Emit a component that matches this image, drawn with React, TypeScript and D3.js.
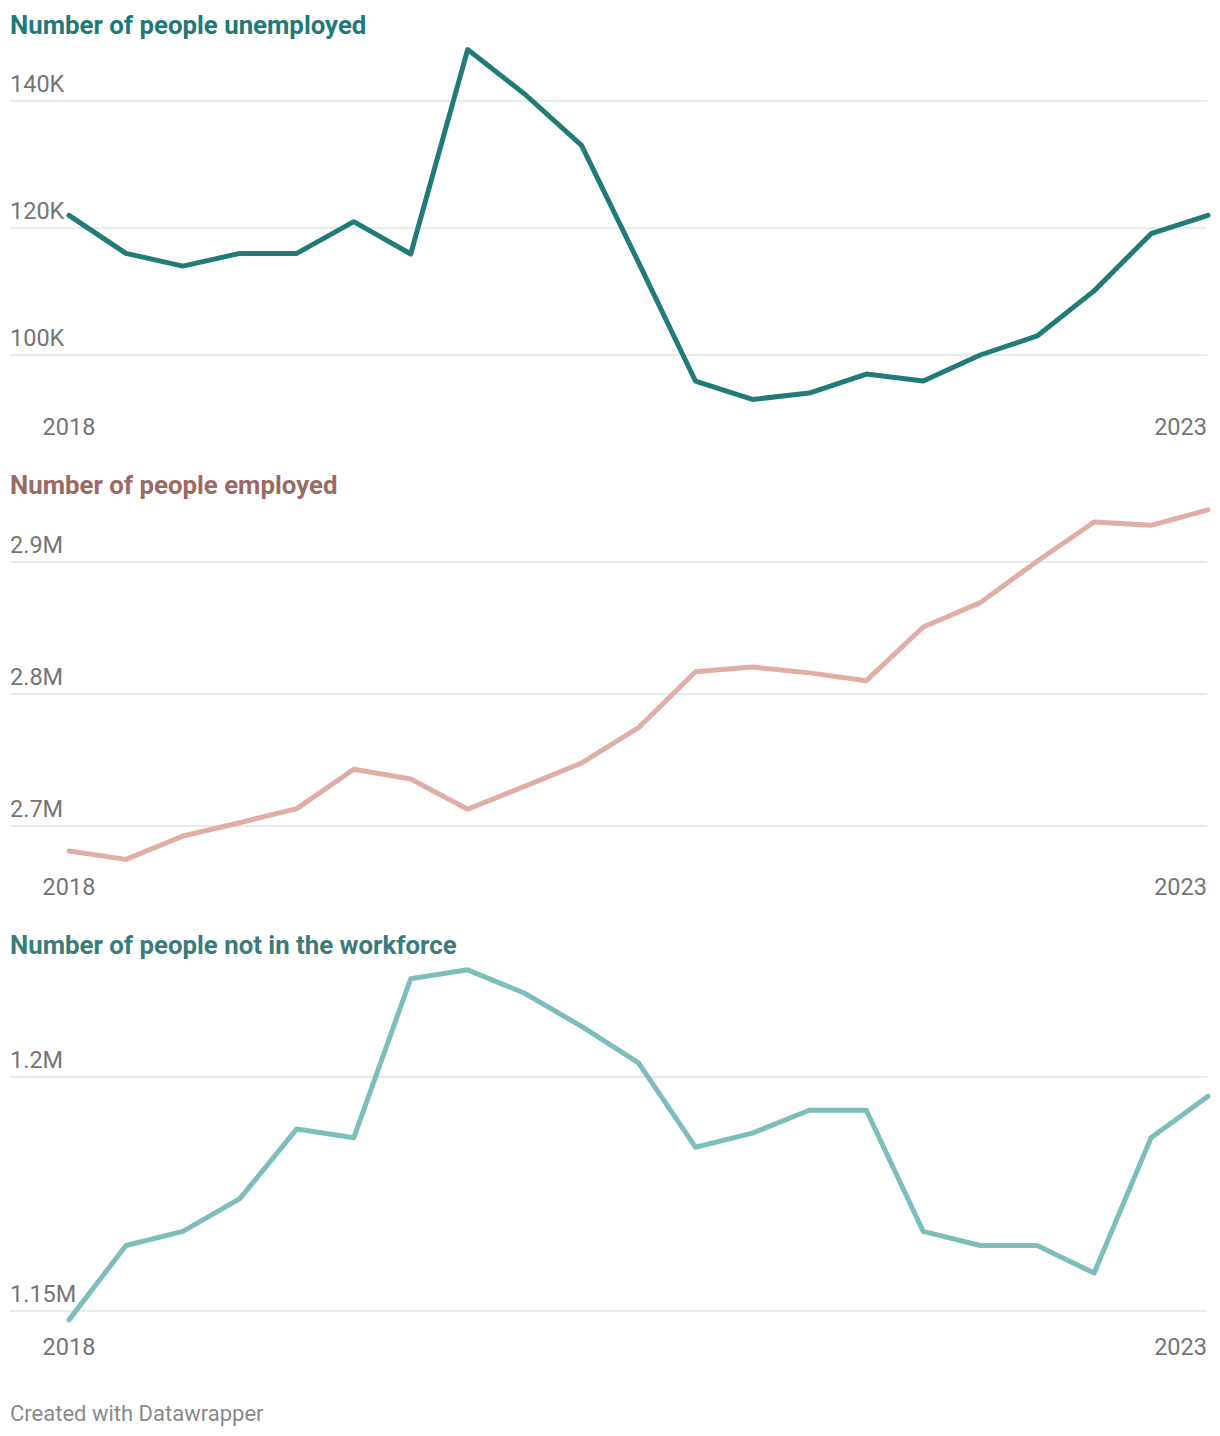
import React from "react";
import * as d3 from "d3";

const quarters: string[] = [
  "2018 Q1","2018 Q2","2018 Q3","2018 Q4",
  "2019 Q1","2019 Q2","2019 Q3","2019 Q4",
  "2020 Q1","2020 Q2","2020 Q3","2020 Q4",
  "2021 Q1","2021 Q2","2021 Q3","2021 Q4",
  "2022 Q1","2022 Q2","2022 Q3","2022 Q4",
  "2023 Q1",
];

const unemployed: number[] = [
  122000, 116000, 114000, 116000, 116000, 121000, 115900, 148100, 141100, 133000,
  114600, 95900, 93000, 94000, 97000, 95900, 100000, 103000, 110100, 119100, 122000,
];

const employed: number[] = [
  2681000, 2674700, 2692400, 2702500, 2713200, 2743000, 2735600, 2712700, 2730000, 2747700,
  2774500, 2816900, 2820500, 2816000, 2810100, 2850800, 2869200, 2900600, 2930300, 2927800, 2939500,
];

const notInWorkforce: number[] = [
  1148100, 1164000, 1167000, 1174000, 1188900, 1187000, 1221000, 1222900, 1217900, 1210800,
  1203000, 1185000, 1188000, 1192900, 1192900, 1167000, 1164000, 1164000, 1158100, 1187000, 1195900,
];

const unemployedTicks: number[] = [100000, 120000, 140000];
const employedTicks: number[] = [2700000, 2800000, 2900000];
const notInWorkforceTicks: number[] = [1150000, 1200000];

const xLabels: string[] = ["2018", "2023"];

const titles: string[] = [
  "Number of people unemployed",
  "Number of people employed",
  "Number of people not in the workforce",
];

type Panel = {
  title: string;
  titleColor: string;
  lineColor: string;
  values: number[];
  ticks: number[];
  fmt: (v: number) => string;
  domain: [number, number];
  range: [number, number];
  top: number;
};

const fmtK = (v: number) => `${Math.round(v / 1000)}K`;
const fmtM = (v: number) => `${d3.format("~")(+(v / 1e6).toFixed(2))}M`;

const panels: Panel[] = [
  {
    title: titles[0],
    titleColor: "#1f7a77",
    lineColor: "#217b78",
    values: unemployed,
    ticks: unemployedTicks,
    fmt: fmtK,
    domain: [100000, 140000],
    range: [355, 101],
    top: 0,
  },
  {
    title: titles[1],
    titleColor: "#9a6a63",
    lineColor: "#e1aea6",
    values: employed,
    ticks: employedTicks,
    fmt: fmtM,
    domain: [2700000, 2900000],
    range: [826, 562],
    top: 460,
  },
  {
    title: titles[2],
    titleColor: "#3b7c7a",
    lineColor: "#7dbdbb",
    values: notInWorkforce,
    ticks: notInWorkforceTicks,
    fmt: fmtM,
    domain: [1150000, 1200000],
    range: [1311, 1077],
    top: 920,
  },
];

const FONT = "Roboto, 'Noto Sans', sans-serif";

export default function App() {
  const width = 1220;
  const height = 1436;
  const x = d3
    .scalePoint<string>()
    .domain(quarters)
    .range([69, 1208]);

  return (
    <svg
      width={width}
      height={height}
      style={{ position: "absolute", left: 0, top: 0, background: "#fff" }}
      fontFamily={FONT}
    >
      <rect x={0} y={0} width={width} height={height} fill="#fff" />
      {panels.map((p, pi) => {
        const y = d3.scaleLinear().domain(p.domain).range(p.range);
        const line = d3
          .line<number>()
          .x((_, i) => x(quarters[i]) as number)
          .y((d) => y(d));
        return (
          <g key={pi}>
            <text
              x={10}
              y={p.top + 34}
              fontSize={25.8}
              fontWeight={700}
              fill={p.titleColor}
            >
              {p.title}
            </text>
            {p.ticks.map((t) => (
              <g key={t}>
                <line
                  x1={10}
                  x2={1207}
                  y1={y(t)}
                  y2={y(t)}
                  stroke="#e3e3e3"
                  strokeWidth={1.6}
                />
                <text x={10} y={y(t) - 9.5} fontSize={23.5} fill="#757575">
                  {p.fmt(t)}
                </text>
              </g>
            ))}
            <path
              d={line(p.values) || ""}
              fill="none"
              stroke={p.lineColor}
              strokeWidth={5}
              strokeLinejoin="round"
              strokeLinecap="round"
            />
            <text
              x={x(quarters[0]) as number}
              y={p.top + 434.5}
              fontSize={23.5}
              fill="#757575"
              textAnchor="middle"
            >
              {xLabels[0]}
            </text>
            <text
              x={1207}
              y={p.top + 434.5}
              fontSize={23.5}
              fill="#757575"
              textAnchor="end"
            >
              {xLabels[1]}
            </text>
          </g>
        );
      })}
      <text x={10} y={1420.5} fontSize={22} fill="#8a8a8a">
        Created with Datawrapper
      </text>
    </svg>
  );
}
